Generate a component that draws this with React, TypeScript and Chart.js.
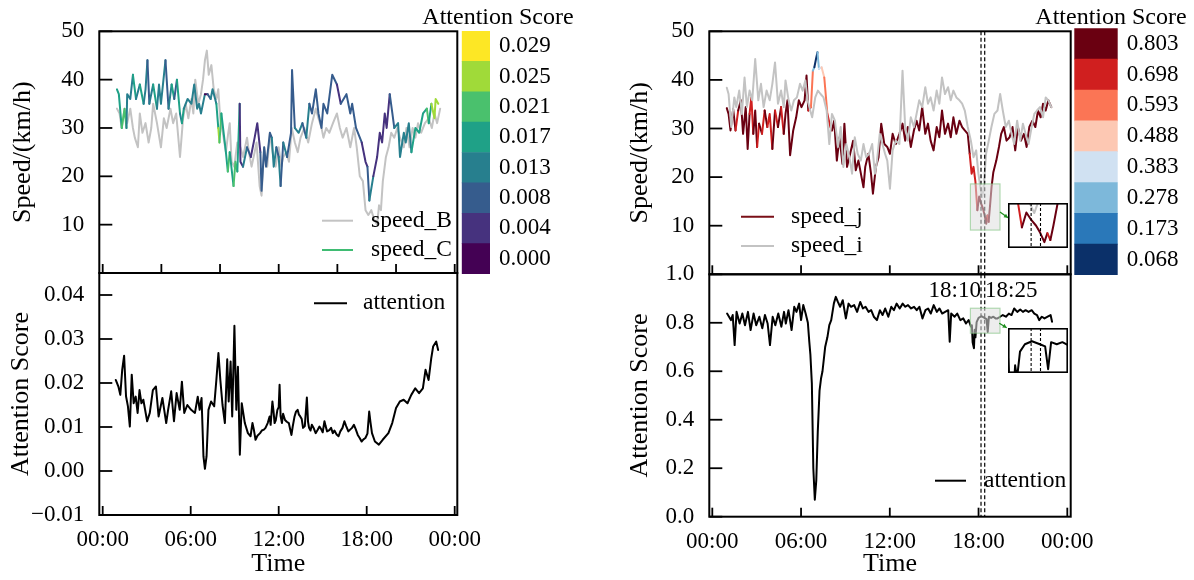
import React, { useEffect, useRef } from "react";
import { Chart, registerables } from "chart.js";

Chart.register(...registerables);

const FONT = "'Liberation Serif', 'Times New Roman', Times, serif";
Chart.defaults.font.family = FONT;
Chart.defaults.color = "#000";

type Pt = [number, number];

// ---------------- data (hours, value) ----------------
const leftSpeedB: Pt[] = [
  [0.97, 34], [1.15, 33], [1.3, 30], [1.49, 34], [1.67, 31], [1.88, 34], [2.06, 30], [2.19, 28], [2.4, 26], [2.53, 33],
  [2.71, 29], [2.92, 31], [3.13, 27], [3.31, 30], [3.44, 35], [3.7, 31], [3.97, 26], [4.17, 32], [4.36, 30], [4.62, 34],
  [4.8, 31], [5.01, 33], [5.27, 24], [5.48, 32], [5.66, 35], [5.84, 32], [6.05, 36], [6.18, 33], [6.31, 40], [6.52, 35],
  [6.7, 37], [6.84, 40], [6.97, 44], [7.1, 46], [7.23, 41], [7.41, 43], [7.57, 38], [7.75, 36], [7.88, 38], [8.01, 32],
  [8.19, 29], [8.4, 25], [8.56, 29], [8.66, 31], [8.79, 23], [8.97, 22], [9.18, 27], [9.39, 26], [9.57, 24], [9.84, 28],
  [9.97, 25], [10.15, 22], [10.36, 25], [10.49, 27], [10.7, 18], [10.83, 16], [11.01, 26], [11.22, 22], [11.4, 29], [11.58, 25],
  [11.79, 22], [12.0, 26], [12.18, 22], [12.31, 24], [12.52, 25], [12.7, 23], [12.89, 30], [13.1, 27], [13.3, 25], [13.49, 28],
  [13.75, 30], [14.01, 27], [14.27, 31], [14.53, 34], [14.71, 32], [14.92, 30], [15.05, 28], [15.24, 30], [15.45, 29], [15.7, 31],
  [15.97, 33], [16.17, 30], [16.36, 28], [16.62, 30], [16.88, 26], [17.14, 30], [17.32, 26], [17.53, 20], [17.74, 19], [17.92, 13],
  [18.11, 12], [18.31, 13], [18.52, 11], [18.71, 10], [18.84, 14], [18.97, 13], [19.1, 19], [19.31, 24], [19.49, 26], [19.67, 29],
  [19.88, 28], [20.09, 30], [20.27, 28], [20.53, 26], [20.71, 30], [20.92, 26], [21.13, 30], [21.32, 28], [21.5, 31], [21.71, 29],
  [21.97, 31], [22.23, 32], [22.44, 30], [22.62, 33], [22.8, 31], [23.01, 34],
];

const leftSpeedC: Pt[] = [
  [0.97, 38], [1.1, 37], [1.3, 30], [1.49, 34], [1.62, 30], [1.67, 37], [1.88, 36], [2.06, 41], [2.27, 36], [2.53, 39],
  [2.79, 35], [2.92, 38], [3.05, 44], [3.18, 35], [3.44, 39], [3.7, 34], [3.84, 39], [3.97, 35], [4.28, 44], [4.49, 34],
  [4.7, 39], [4.88, 36], [5.06, 40], [5.27, 33], [5.4, 31], [5.53, 34], [5.79, 36], [6.05, 35], [6.24, 39], [6.44, 34],
  [6.57, 35], [6.7, 33], [6.97, 37], [7.15, 37], [7.36, 36], [7.49, 38], [7.75, 35], [7.88, 30], [7.96, 27], [8.09, 33],
  [8.4, 25], [8.53, 21], [8.66, 25], [8.92, 18], [9.05, 23], [9.18, 21], [9.34, 35], [9.39, 23], [9.57, 22], [9.84, 26],
  [10.1, 24], [10.36, 28], [10.54, 31], [10.75, 25], [10.83, 17], [11.01, 26], [11.14, 22], [11.4, 29], [11.53, 28], [11.66, 22],
  [11.84, 26], [12.0, 24], [12.13, 18], [12.31, 27], [12.57, 24], [12.84, 29], [12.91, 42], [13.1, 30], [13.36, 29], [13.62, 31],
  [13.88, 28], [14.09, 35], [14.27, 33], [14.53, 38], [14.71, 33], [14.92, 30], [15.05, 35], [15.31, 33], [15.65, 41], [15.97, 39],
  [16.23, 35], [16.62, 37], [16.88, 33], [17.01, 35], [17.27, 30], [17.66, 27], [17.92, 23], [18.05, 22], [18.18, 15], [18.45, 20],
  [18.71, 24], [18.89, 29], [19.05, 27], [19.23, 33], [19.36, 30], [19.57, 37], [19.75, 33], [19.88, 30], [20.14, 31], [20.27, 24],
  [20.53, 29], [20.66, 27], [20.87, 31], [21.05, 25], [21.32, 30], [21.58, 29], [21.84, 33], [22.1, 34], [22.23, 31], [22.41, 35],
  [22.62, 32], [22.7, 36], [22.88, 35],
];

const leftAttention: Pt[] = [
  [0.89, 0.0207], [1.07, 0.0192], [1.2, 0.0173], [1.33, 0.023], [1.46, 0.0262], [1.59, 0.017], [1.72, 0.0147], [1.85, 0.0101], [1.98, 0.0219], [2.11, 0.0154],
  [2.25, 0.0169], [2.38, 0.0132], [2.51, 0.0184], [2.64, 0.0154], [2.77, 0.0162], [3.03, 0.0113], [3.21, 0.0132], [3.42, 0.0184], [3.63, 0.0192], [3.81, 0.0124],
  [4.07, 0.0166], [4.33, 0.0109], [4.46, 0.0139], [4.67, 0.0181], [4.86, 0.0113], [5.04, 0.0177], [5.25, 0.0139], [5.4, 0.0203], [5.56, 0.0132], [5.77, 0.015],
  [6.03, 0.0139], [6.29, 0.0132], [6.48, 0.0169], [6.61, 0.0139], [6.74, 0.0166], [6.87, 0.0033], [6.97, 0.0005], [7.08, 0.0033], [7.21, 0.0139], [7.39, 0.0158],
  [7.6, 0.0147], [7.75, 0.0207], [7.89, 0.0268], [8.02, 0.0207], [8.17, 0.015], [8.33, 0.0109], [8.49, 0.0254], [8.59, 0.0158], [8.72, 0.0249], [8.83, 0.0124],
  [8.98, 0.033], [9.11, 0.0139], [9.22, 0.0237], [9.35, 0.0037], [9.48, 0.0154], [9.69, 0.0109], [9.9, 0.0086], [10.08, 0.0079], [10.21, 0.0109], [10.3, 0.0095],
  [10.42, 0.0071], [10.55, 0.008], [10.73, 0.0086], [10.85, 0.0092], [10.99, 0.0094], [11.1, 0.0098], [11.25, 0.0109], [11.38, 0.0124], [11.45, 0.0105], [11.57, 0.0158],
  [11.65, 0.0135], [11.72, 0.0109], [11.8, 0.0115], [11.91, 0.0139], [12.0, 0.0145], [12.06, 0.0196], [12.13, 0.0125], [12.22, 0.0109], [12.3, 0.013], [12.43, 0.0116],
  [12.55, 0.0112], [12.69, 0.0109], [12.78, 0.0095], [12.87, 0.0082], [12.95, 0.01], [13.08, 0.0124], [13.18, 0.0135], [13.29, 0.0139], [13.38, 0.0128], [13.47, 0.0124],
  [13.57, 0.0118], [13.66, 0.0098], [13.78, 0.0102], [13.92, 0.0167], [14.0, 0.0112], [14.07, 0.0098], [14.17, 0.0092], [14.26, 0.0105], [14.38, 0.0098], [14.52, 0.0086],
  [14.65, 0.0093], [14.78, 0.0101], [14.9, 0.0095], [15.0, 0.0088], [15.12, 0.0113], [15.2, 0.0102], [15.3, 0.009], [15.45, 0.0093], [15.57, 0.0098], [15.69, 0.0086],
  [15.8, 0.0092], [15.95, 0.0083], [16.08, 0.0079], [16.2, 0.009], [16.35, 0.0098], [16.48, 0.0113], [16.6, 0.0102], [16.75, 0.009], [16.87, 0.0094], [17.0, 0.0098],
  [17.13, 0.0105], [17.25, 0.0095], [17.39, 0.0082], [17.52, 0.0075], [17.65, 0.0067], [17.78, 0.0072], [17.91, 0.0075], [18.05, 0.0085], [18.17, 0.0135], [18.26, 0.011],
  [18.36, 0.0086], [18.56, 0.0067], [18.83, 0.006], [19.09, 0.0071], [19.48, 0.0086], [19.74, 0.0109], [20.0, 0.0143], [20.26, 0.0158], [20.52, 0.0162], [20.78, 0.0154],
  [21.04, 0.0173], [21.31, 0.0188], [21.57, 0.0177], [21.83, 0.0188], [22.01, 0.023], [22.22, 0.0207], [22.4, 0.0256], [22.53, 0.0283], [22.74, 0.0294], [22.87, 0.0275],
];

const rightSpeedJ: Pt[] = [
  [0.98, 34.2], [1.1, 33.0], [1.23, 29.6], [1.41, 34.0], [1.57, 29.6], [1.75, 33.7], [1.93, 35.8], [2.08, 28.9], [2.26, 34.4], [2.39, 25.8],
  [2.52, 33.0], [2.64, 36.4], [2.77, 28.9], [2.9, 33.7], [3.03, 26.2], [3.16, 31.0], [3.36, 28.9], [3.54, 33.7], [3.72, 30.3], [3.88, 33.0],
  [4.06, 25.8], [4.24, 33.7], [4.44, 30.3], [4.65, 34.4], [4.83, 28.9], [4.95, 33.0], [5.08, 35.8], [5.26, 24.5], [5.47, 29.6], [5.67, 32.3],
  [5.85, 35.8], [6.03, 34.4], [6.24, 35.8], [6.37, 40.9], [6.49, 33.7], [6.67, 34.4], [6.8, 41.9], [6.9, 42.6], [7.01, 44.3], [7.11, 45.7],
  [7.21, 42.3], [7.39, 42.6], [7.57, 40.5], [7.78, 33.0], [7.98, 30.3], [8.09, 29.6], [8.24, 31.6], [8.42, 23.4], [8.6, 28.2], [8.8, 22.7],
  [8.93, 31.0], [9.11, 22.1], [9.32, 24.8], [9.52, 27.5], [9.7, 21.4], [9.88, 23.4], [10.09, 20.0], [10.22, 17.9], [10.34, 22.1], [10.55, 24.8],
  [10.73, 20.7], [10.86, 16.6], [11.06, 22.1], [11.24, 24.1], [11.42, 31.0], [11.63, 26.8], [11.83, 26.2], [12.01, 24.8], [12.19, 28.9], [12.4, 26.8],
  [12.65, 28.9], [12.86, 31.0], [13.04, 27.5], [13.22, 30.3], [13.42, 26.2], [13.63, 29.6], [13.81, 31.6], [13.99, 29.6], [14.19, 34.4], [14.4, 28.9],
  [14.58, 31.0], [14.76, 27.5], [14.96, 25.5], [15.17, 30.3], [15.35, 28.2], [15.53, 33.7], [15.73, 28.9], [15.94, 31.0], [16.12, 28.2], [16.3, 32.3],
  [16.5, 28.9], [16.71, 31.6], [16.89, 30.3], [17.07, 29.6], [17.27, 28.9], [17.4, 24.8], [17.53, 20.7], [17.66, 22.1], [17.79, 19.0], [17.92, 13.2],
  [18.04, 16.0], [18.17, 14.6], [18.3, 13.5], [18.4, 12.3], [18.52, 10.4], [18.6, 12.1], [18.68, 10.8], [18.76, 13.5], [18.88, 18.0], [19.0, 21.0],
  [19.2, 23.4], [19.38, 26.2], [19.53, 28.9], [19.71, 30.3], [19.89, 27.5], [20.1, 28.2], [20.3, 30.3], [20.48, 25.5], [20.66, 30.3], [20.87, 27.5],
  [21.07, 28.9], [21.25, 26.2], [21.43, 30.3], [21.64, 31.6], [21.84, 30.3], [22.02, 33.7], [22.2, 32.3], [22.36, 35.1], [22.54, 33.7], [22.72, 35.8],
  [22.92, 34.4],
];

const rightSpeedI: Pt[] = [
  [0.98, 38.4], [1.1, 37.1], [1.28, 30.3], [1.49, 36.4], [1.62, 34.4], [1.82, 37.8], [2.0, 33.0], [2.18, 40.5], [2.34, 34.4], [2.52, 37.8],
  [2.7, 35.8], [2.9, 44.3], [3.11, 35.8], [3.29, 39.2], [3.47, 34.4], [3.67, 37.8], [3.88, 35.8], [4.06, 39.2], [4.24, 43.6], [4.44, 35.1],
  [4.65, 37.8], [4.83, 34.4], [4.95, 39.9], [5.16, 35.8], [5.34, 33.7], [5.52, 35.8], [5.72, 36.4], [5.93, 39.2], [6.11, 37.8], [6.29, 39.9],
  [6.44, 35.8], [6.62, 33.7], [6.75, 32.3], [6.96, 36.4], [7.14, 37.8], [7.32, 37.1], [7.52, 36.4], [7.73, 33.7], [7.91, 26.8], [8.09, 33.0],
  [8.29, 31.6], [8.5, 26.2], [8.68, 30.3], [8.86, 22.1], [9.06, 26.8], [9.27, 24.1], [9.45, 20.7], [9.63, 28.2], [9.83, 24.8], [10.04, 23.4],
  [10.22, 26.8], [10.4, 24.1], [10.6, 24.8], [10.81, 26.8], [10.99, 20.7], [11.11, 22.7], [11.32, 28.9], [11.5, 26.8], [11.68, 24.8], [11.83, 23.4],
  [12.01, 17.6], [12.19, 25.5], [12.4, 27.5], [12.65, 26.8], [12.86, 41.9], [13.04, 30.3], [13.22, 27.5], [13.42, 32.3], [13.63, 30.3], [13.81, 33.0],
  [13.99, 35.8], [14.19, 34.4], [14.4, 38.5], [14.58, 35.1], [14.76, 36.4], [14.96, 33.7], [15.17, 37.8], [15.35, 35.1], [15.53, 40.5], [15.73, 37.1],
  [15.94, 38.5], [16.12, 35.8], [16.3, 37.8], [16.5, 36.4], [16.71, 35.8], [16.89, 35.1], [17.07, 33.7], [17.27, 30.3], [17.48, 27.5], [17.66, 24.1],
  [17.84, 25.5], [17.99, 20.7], [18.12, 17.9], [18.25, 15.9], [18.35, 17.9], [18.51, 24.8], [18.69, 27.5], [18.87, 30.3], [19.07, 33.0], [19.28, 33.7],
  [19.46, 37.1], [19.64, 33.7], [19.84, 30.3], [20.05, 31.6], [20.23, 28.9], [20.41, 26.8], [20.61, 31.6], [20.82, 27.5], [21.0, 31.0], [21.18, 28.9],
  [21.38, 26.8], [21.59, 30.3], [21.77, 33.0], [21.95, 33.7], [22.15, 34.4], [22.36, 32.3], [22.54, 36.4], [22.72, 35.8], [22.92, 34.4],
];

const rightAttention: Pt[] = [
  [1.0, 0.838], [1.13, 0.825], [1.26, 0.811], [1.38, 0.832], [1.51, 0.708], [1.64, 0.845], [1.85, 0.797], [2.03, 0.838], [2.21, 0.79], [2.41, 0.845],
  [2.59, 0.77], [2.79, 0.838], [2.97, 0.79], [3.18, 0.825], [3.38, 0.777], [3.56, 0.832], [3.74, 0.797], [3.9, 0.708], [4.08, 0.825], [4.26, 0.79],
  [4.46, 0.838], [4.67, 0.784], [4.85, 0.845], [4.97, 0.797], [5.15, 0.852], [5.36, 0.77], [5.54, 0.866], [5.69, 0.845], [5.87, 0.879], [6.0, 0.811],
  [6.15, 0.873], [6.31, 0.838], [6.46, 0.8], [6.56, 0.72], [6.63, 0.67], [6.73, 0.55], [6.83, 0.2], [6.93, 0.07], [7.03, 0.15], [7.13, 0.35],
  [7.25, 0.52], [7.35, 0.57], [7.45, 0.6], [7.63, 0.7], [7.78, 0.74], [7.91, 0.79], [8.04, 0.811], [8.22, 0.88], [8.35, 0.907], [8.49, 0.886],
  [8.64, 0.866], [8.82, 0.893], [9.03, 0.818], [9.21, 0.879], [9.38, 0.866], [9.59, 0.873], [9.79, 0.845], [10.0, 0.886], [10.18, 0.859], [10.36, 0.866],
  [10.56, 0.845], [10.74, 0.852], [10.92, 0.825], [11.13, 0.811], [11.33, 0.852], [11.51, 0.832], [11.69, 0.859], [11.9, 0.825], [12.1, 0.866], [12.28, 0.852],
  [12.46, 0.879], [12.67, 0.859], [12.87, 0.879], [13.05, 0.866], [13.23, 0.873], [13.44, 0.859], [13.64, 0.866], [13.82, 0.852], [14.0, 0.866], [14.21, 0.818],
  [14.41, 0.852], [14.59, 0.859], [14.77, 0.838], [14.97, 0.873], [15.18, 0.845], [15.36, 0.859], [15.54, 0.838], [15.74, 0.845], [15.95, 0.852], [16.05, 0.722],
  [16.15, 0.838], [16.38, 0.825], [16.56, 0.838], [16.77, 0.811], [16.97, 0.818], [17.15, 0.797], [17.33, 0.811], [17.49, 0.784], [17.55, 0.79], [17.6, 0.72],
  [17.69, 0.695], [17.74, 0.771], [17.79, 0.74], [17.87, 0.803], [18.0, 0.82], [18.19, 0.827], [18.4, 0.82], [18.54, 0.815], [18.62, 0.762], [18.7, 0.825],
  [18.85, 0.82], [19.0, 0.825], [19.15, 0.818], [19.28, 0.818], [19.46, 0.825], [19.64, 0.832], [19.85, 0.825], [20.05, 0.838], [20.23, 0.832], [20.41, 0.859],
  [20.62, 0.845], [20.82, 0.855], [21.0, 0.845], [21.18, 0.852], [21.38, 0.845], [21.59, 0.852], [21.77, 0.838], [21.95, 0.832], [22.1, 0.811], [22.28, 0.825],
  [22.46, 0.818], [22.67, 0.825], [22.87, 0.832], [22.97, 0.804],
];

// ---------------- ticks & colour scales ----------------
const hourTicks6 = [0, 6, 12, 18, 24];
const hourTicks4 = [0, 4, 8, 12, 16, 20, 24];
const hourLabels = ["00:00", "06:00", "12:00", "18:00", "00:00"];
const speedTicks = [10, 20, 30, 40, 50];
const speedLabels = ["10", "20", "30", "40", "50"];
const leftAttnTicks = [-0.01, 0, 0.01, 0.02, 0.03, 0.04];
const leftAttnLabels = ["\u22120.01", "0.00", "0.01", "0.02", "0.03", "0.04"];
const rightAttnTicks = [0, 0.2, 0.4, 0.6, 0.8, 1.0];
const rightAttnLabels = ["0.0", "0.2", "0.4", "0.6", "0.8", "1.0"];

const viridis8 = ["#440154", "#46327e", "#365c8d", "#277f8e", "#1fa187", "#4ac16d", "#a0da39", "#fde725"];
const leftCbarLabels = ["0.000", "0.004", "0.008", "0.013", "0.017", "0.021", "0.025", "0.029"];
const leftNorm = [0.0, 0.0336];
const rdbu8 = ["#0b3069", "#2a78b9", "#7db8da", "#d0e1f2", "#fdc8b3", "#fb7555", "#d01f1f", "#6a0011"];
const rightCbarLabels = ["0.068", "0.173", "0.278", "0.383", "0.488", "0.593", "0.698", "0.803"];
const rightNorm = [0.068, 0.908];
const markTimes = [18 + 10 / 60, 18 + 25 / 60];

const GRAY = "#c3c3c3";

// ---------------- helpers ----------------
function interp(series: Pt[], h: number): number {
  if (h <= series[0][0]) return series[0][1];
  for (let i = 1; i < series.length; i++) {
    if (h <= series[i][0]) {
      const [x0, y0] = series[i - 1];
      const [x1, y1] = series[i];
      return y0 + ((y1 - y0) * (h - x0)) / (x1 - x0);
    }
  }
  return series[series.length - 1][1];
}

function binColor(a: number, norm: number[], colors: string[]): string {
  let i = Math.floor(((a - norm[0]) / (norm[1] - norm[0])) * colors.length);
  i = Math.max(0, Math.min(colors.length - 1, i));
  return colors[i];
}

const xy = (p: Pt[]) => p.map(([x, y]) => ({ x, y }));

function coloredDataset(series: Pt[], attn: Pt[], norm: number[], colors: string[]) {
  return {
    data: xy(series),
    borderColor: colors[colors.length - 1],
    borderWidth: 2,
    segment: {
      borderColor: (ctx: any) => binColor(interp(attn, series[ctx.p0DataIndex][0]), norm, colors),
    },
  };
}

function plainDataset(series: Pt[], color: string) {
  return { data: xy(series), borderColor: color, borderWidth: 2 };
}

function line(ctx: any, x0: number, y0: number, x1: number, y1: number) {
  ctx.beginPath();
  ctx.moveTo(x0, y0);
  ctx.lineTo(x1, y1);
  ctx.stroke();
}

function zeroPad(sc: any) {
  sc.paddingTop = 0;
  sc.paddingBottom = 0;
  sc.paddingLeft = 0;
  sc.paddingRight = 0;
}

// ---------------- panel config ----------------
function panelConfig(s: any) {
  const decor = {
    id: "decor",
    afterDatasetsDraw(chart: any) {
      const { ctx, chartArea: a, scales } = chart;
      const xs = scales.x;
      const ys = scales.y;
      ctx.save();
      if (s.dashed) {
        ctx.strokeStyle = "#000";
        ctx.lineWidth = 1.2;
        ctx.setLineDash([4, 2.5]);
        for (const d of s.dashed) {
          const px = xs.getPixelForValue(d);
          line(ctx, px, a.top, px, a.bottom);
        }
        ctx.setLineDash([]);
      }
      if (s.zoomBox) {
        const b = s.zoomBox;
        const x0 = xs.getPixelForValue(b[0]);
        const x1 = xs.getPixelForValue(b[1]);
        const y0 = ys.getPixelForValue(b[3]);
        const y1 = ys.getPixelForValue(b[2]);
        ctx.fillStyle = "rgba(222,222,222,0.55)";
        ctx.fillRect(x0, y0, x1 - x0, y1 - y0);
        ctx.strokeStyle = "rgba(130,195,130,0.6)";
        ctx.lineWidth = 1.2;
        ctx.strokeRect(x0, y0, x1 - x0, y1 - y0);
      }
      if (s.arrow) {
        const [ax0, ay0, ax1, ay1] = s.arrow;
        const x0 = ax0 - s.left, y0 = ay0 - s.top, x1 = ax1 - s.left, y1 = ay1 - s.top;
        ctx.strokeStyle = "#1f8f1f";
        ctx.fillStyle = "#1f8f1f";
        ctx.lineWidth = 1.3;
        line(ctx, x0, y0, x1, y1);
        const ang = Math.atan2(y1 - y0, x1 - x0);
        ctx.beginPath();
        ctx.moveTo(x1, y1);
        ctx.lineTo(x1 - 4.5 * Math.cos(ang - 0.5), y1 - 4.5 * Math.sin(ang - 0.5));
        ctx.lineTo(x1 - 4.5 * Math.cos(ang + 0.5), y1 - 4.5 * Math.sin(ang + 0.5));
        ctx.closePath();
        ctx.fill();
      }
      // frame
      ctx.strokeStyle = "#000";
      ctx.lineWidth = 2;
      ctx.strokeRect(a.left, a.top, a.right - a.left, a.bottom - a.top);
      // inward ticks
      ctx.lineWidth = 1.8;
      for (const t of s.yTicks) {
        const py = ys.getPixelForValue(t);
        line(ctx, a.left, py, a.left + 13, py);
      }
      for (const t of s.xTicks) {
        const px = xs.getPixelForValue(t);
        line(ctx, px, a.bottom, px, a.bottom - 9);
      }
      // legend
      ctx.font = `23.5px ${FONT}`;
      ctx.textBaseline = "middle";
      ctx.textAlign = "left";
      for (const it of s.legend.items) {
        ctx.strokeStyle = it.color;
        ctx.lineWidth = 2;
        line(ctx, s.legend.x1 - s.left, it.y - s.top, s.legend.x2 - s.left, it.y - s.top);
        ctx.fillStyle = "#000";
        ctx.fillText(it.label, s.legend.tx - s.left, it.y - s.top);
      }
      if (s.texts) {
        ctx.font = `23px ${FONT}`;
        for (const t of s.texts) {
          ctx.textAlign = t.align;
          ctx.fillStyle = "#000";
          ctx.fillText(t.text, t.x - s.left, t.y - s.top);
        }
      }
      ctx.restore();
    },
  };

  return {
    type: "line",
    data: { datasets: s.datasets },
    plugins: [decor],
    options: {
      animation: false,
      responsive: false,
      maintainAspectRatio: false,
      devicePixelRatio: 1,
      layout: { padding: s.padding, autoPadding: false },
      plugins: { legend: { display: false }, tooltip: { enabled: false }, title: { display: false } },
      elements: {
        point: { radius: 0, hoverRadius: 0 },
        line: { tension: 0, borderJoinStyle: "round", borderCapStyle: "round" },
      },
      scales: {
        x: {
          type: "linear",
          min: s.xMin,
          max: s.xMax,
          grid: { display: false, drawTicks: false, tickLength: 0 },
          border: { display: false },
          ticks: {
            display: !!s.xLabels,
            padding: 11,
            autoSkip: false,
            maxRotation: 0,
            minRotation: 0,
            font: { size: 23 },
            color: "#000",
            callback: (_v: any, i: number) => (s.xLabels ? s.xLabels[i] : ""),
          },
          afterBuildTicks: (sc: any) => {
            sc.ticks = s.xTicks.map((v: number) => ({ value: v }));
          },
          afterFit: (sc: any) => {
            sc.height = s.xHeight;
            zeroPad(sc);
          },
          title: s.xTitle
            ? { display: true, text: s.xTitle, font: { size: 26 }, color: "#000", padding: { top: 0, bottom: 0 } }
            : { display: false },
        },
        y: {
          type: "linear",
          min: s.yMin,
          max: s.yMax,
          grid: { display: false, drawTicks: false, tickLength: 0 },
          border: { display: false },
          ticks: {
            padding: 15,
            autoSkip: false,
            font: { size: 23 },
            color: "#000",
            callback: (_v: any, i: number) => s.yLabels[i],
          },
          afterBuildTicks: (sc: any) => {
            sc.ticks = s.yTicks.map((v: number) => ({ value: v }));
          },
          afterFit: (sc: any) => {
            sc.width = s.yWidth;
            zeroPad(sc);
          },
          title: { display: true, text: s.yTitle, font: { size: 26 }, color: "#000", padding: { top: s.yTitlePad, bottom: 0 } },
        },
      },
    },
  };
}

function cbarConfig(s: any) {
  const titlePlugin = {
    id: "cbtitle",
    afterDraw(chart: any) {
      const { ctx } = chart;
      ctx.save();
      ctx.font = `24px ${FONT}`;
      ctx.fillStyle = "#000";
      ctx.textAlign = "center";
      ctx.textBaseline = "middle";
      ctx.fillText("Attention Score", s.titleX - s.left, s.titleY - s.top);
      ctx.restore();
    },
  };
  return {
    type: "bar",
    data: {
      labels: [""],
      datasets: s.colors.map((c: string) => ({
        data: [1],
        backgroundColor: c,
        borderWidth: 0,
        barPercentage: 1,
        categoryPercentage: 1,
      })),
    },
    plugins: [titlePlugin],
    options: {
      animation: false,
      responsive: false,
      maintainAspectRatio: false,
      devicePixelRatio: 1,
      layout: { padding: s.padding, autoPadding: false },
      plugins: { legend: { display: false }, tooltip: { enabled: false } },
      scales: {
        x: { display: false, stacked: true },
        y: {
          stacked: true,
          position: "right",
          min: 0,
          max: s.colors.length,
          grid: { display: false, drawTicks: false, tickLength: 0 },
          border: { display: false },
          ticks: {
            padding: 9,
            font: { size: 23 },
            color: "#000",
            autoSkip: false,
            callback: (_v: any, i: number) => s.labels[i],
          },
          afterBuildTicks: (sc: any) => {
            sc.ticks = s.labels.map((_l: string, i: number) => ({ value: i + 0.5 }));
          },
          afterFit: (sc: any) => {
            sc.width = s.yWidth;
            zeroPad(sc);
          },
        },
      },
    },
  };
}

function insetConfig(s: any) {
  const deco = {
    id: "insetDeco",
    beforeDraw(chart: any) {
      const { ctx, width, height } = chart;
      ctx.save();
      ctx.fillStyle = "#fff";
      ctx.fillRect(0, 0, width, height);
      ctx.restore();
    },
    afterDraw(chart: any) {
      const { ctx, width, height, scales } = chart;
      ctx.save();
      ctx.strokeStyle = "#000";
      ctx.lineWidth = 1.1;
      ctx.setLineDash([3, 2]);
      for (const d of markTimes) {
        const px = scales.x.getPixelForValue(d);
        line(ctx, px, 0, px, height);
      }
      ctx.setLineDash([]);
      ctx.lineWidth = 1.6;
      ctx.strokeRect(0.8, 0.8, width - 1.6, height - 1.6);
      ctx.restore();
    },
  };
  return {
    type: "line",
    data: { datasets: s.datasets },
    plugins: [deco],
    options: {
      animation: false,
      responsive: false,
      maintainAspectRatio: false,
      devicePixelRatio: 1,
      layout: { padding: 0, autoPadding: false },
      plugins: { legend: { display: false }, tooltip: { enabled: false } },
      elements: {
        point: { radius: 0, hoverRadius: 0 },
        line: { tension: 0, borderJoinStyle: "round", borderCapStyle: "round" },
      },
      scales: {
        x: { type: "linear", display: false, min: s.xMin, max: s.xMax },
        y: { type: "linear", display: false, min: s.yMin, max: s.yMax },
      },
    },
  };
}

// ---------------- layout specs ----------------
const LT = {
  left: 0, top: 0, width: 490, height: 280,
  padding: { left: 0, top: 31.3, right: 32.7, bottom: 7 },
  yWidth: 99.3, xHeight: 0, yTitlePad: 7.4,
  xMin: -0.232, xMax: 24.177, yMin: 0, yMax: 50,
  xTicks: hourTicks4, yTicks: speedTicks, yLabels: speedLabels,
  yTitle: "Speed/(km/h)",
  datasets: () => [
    coloredDataset(leftSpeedC, leftAttention, leftNorm, viridis8),
    plainDataset(leftSpeedB, GRAY),
  ],
  legend: {
    x1: 322, x2: 353, tx: 371,
    items: [
      { y: 220.7, color: GRAY, label: "speed_B" },
      { y: 250, color: "#3fbc73", label: "speed_C" },
    ],
  },
};

const LB = {
  left: 0, top: 258, width: 490, height: 322,
  padding: { left: 0, top: 15, right: 32.7, bottom: 0 },
  yWidth: 99.3, xHeight: 65, yTitlePad: 5.4,
  xMin: -0.232, xMax: 24.177, yMin: -0.01, yMax: 0.045,
  xTicks: hourTicks6, xLabels: hourLabels, yTicks: leftAttnTicks, yLabels: leftAttnLabels,
  yTitle: "Attention Score", xTitle: "Time",
  datasets: () => [plainDataset(leftAttention, "#000")],
  legend: { x1: 314, x2: 347, tx: 363, items: [{ y: 303.3, color: "#000", label: "attention" }] },
};

const RT = {
  left: 600, top: 0, width: 490, height: 280,
  padding: { left: 0, top: 31.3, right: 19.3, bottom: 5.7 },
  yWidth: 109.3, xHeight: 0, yTitlePad: 24.4,
  xMin: -0.203, xMax: 24.23, yMin: 0, yMax: 50,
  xTicks: hourTicks6, yTicks: speedTicks, yLabels: speedLabels,
  yTitle: "Speed/(km/h)",
  dashed: markTimes,
  zoomBox: [17.45, 19.45, 9.1, 18.6],
  arrow: [1000, 212, 1008, 217.7],
  datasets: () => [
    plainDataset(rightSpeedI, GRAY),
    coloredDataset(rightSpeedJ, rightAttention, rightNorm, rdbu8),
  ],
  legend: {
    x1: 741, x2: 774, tx: 791,
    items: [
      { y: 216.7, color: "#7a0f17", label: "speed_j" },
      { y: 246, color: GRAY, label: "speed_i" },
    ],
  },
};

const RB = {
  left: 600, top: 259, width: 500, height: 321,
  padding: { left: 0, top: 15.3, right: 29.3, bottom: 0 },
  yWidth: 109.3, xHeight: 63.3, yTitlePad: 24.4,
  xMin: -0.203, xMax: 24.23, yMin: 0, yMax: 1.0,
  xTicks: hourTicks6, xLabels: hourLabels, yTicks: rightAttnTicks, yLabels: rightAttnLabels,
  yTitle: "Attention Score", xTitle: "Time",
  dashed: markTimes,
  zoomBox: [17.45, 19.45, 0.757, 0.86],
  arrow: [999.3, 323.3, 1006.7, 327.7],
  texts: [
    { x: 981, y: 291, text: "18:10", align: "right" },
    { x: 985, y: 291, text: "18:25", align: "left" },
  ],
  datasets: () => [plainDataset(rightAttention, "#000")],
  legend: { x1: 935, x2: 966, tx: 984, items: [{ y: 480.7, color: "#000", label: "attention" }] },
};

const LCB = {
  left: 418, top: 0, width: 160, height: 290,
  padding: { left: 43.7, top: 31, right: 0, bottom: 16 },
  yWidth: 88, colors: viridis8, labels: leftCbarLabels, titleX: 498, titleY: 18,
};

const RCB = {
  left: 1031, top: 0, width: 160, height: 290,
  padding: { left: 43.3, top: 28.3, right: 0, bottom: 15 },
  yWidth: 73.3, colors: rdbu8, labels: rightCbarLabels, titleX: 1111, titleY: 18,
};

const INSET_T = {
  left: 1008, top: 203, width: 60, height: 45,
  xMin: 17.55, xMax: 19.15, yMin: 9.3, yMax: 17.8,
  datasets: () => [
    plainDataset(rightSpeedI, GRAY),
    coloredDataset(rightSpeedJ, rightAttention, rightNorm, rdbu8),
  ],
};

const INSET_B = {
  left: 1008, top: 328, width: 60, height: 45,
  xMin: 17.55, xMax: 19.15, yMin: 0.753, yMax: 0.858,
  datasets: () => [plainDataset(rightAttention, "#000")],
};

// ---------------- components ----------------
function ChartCanvas({ box, make }: { box: any; make: () => any }) {
  const ref = useRef<HTMLCanvasElement | null>(null);
  useEffect(() => {
    const chart = new Chart(ref.current as HTMLCanvasElement, make());
    return () => chart.destroy();
  }, []);
  return (
    <canvas
      ref={ref}
      width={box.width}
      height={box.height}
      style={{ position: "absolute", left: box.left, top: box.top, width: box.width, height: box.height }}
    />
  );
}

const panel = (s: any) => () => panelConfig({ ...s, datasets: s.datasets() });
const inset = (s: any) => () => insetConfig({ ...s, datasets: s.datasets() });
const cbar = (s: any) => () => cbarConfig(s);

export default function App() {
  return (
    <div style={{ position: "absolute", left: 0, top: 0, width: 1194, height: 580, background: "#fff", overflow: "hidden" }}>
      <ChartCanvas box={LT} make={panel(LT)} />
      <ChartCanvas box={LB} make={panel(LB)} />
      <ChartCanvas box={LCB} make={cbar(LCB)} />
      <ChartCanvas box={RT} make={panel(RT)} />
      <ChartCanvas box={RB} make={panel(RB)} />
      <ChartCanvas box={RCB} make={cbar(RCB)} />
      <ChartCanvas box={INSET_T} make={inset(INSET_T)} />
      <ChartCanvas box={INSET_B} make={inset(INSET_B)} />
    </div>
  );
}
